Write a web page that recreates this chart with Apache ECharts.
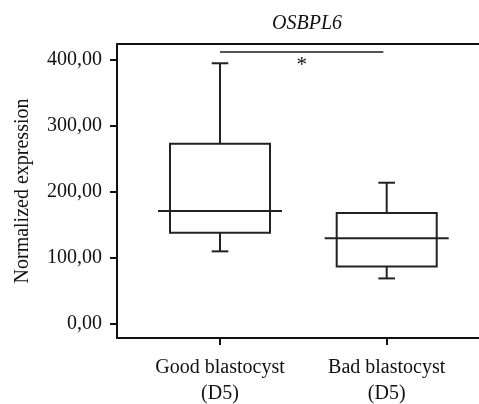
<!DOCTYPE html>
<html>
<head>
<meta charset="utf-8">
<script src="https://cdn.jsdelivr.net/npm/echarts@6/dist/echarts.min.js"></script>
<style>
  html, body { margin: 0; padding: 0; background: #fff; }
  #chart { width: 479px; height: 404px; }
</style>
</head>
<body>
<div id="chart"></div>
<script>
// data
const categories = ['Good blastocyst\n(D5)', 'Bad blastocyst\n(D5)'];
const lowerWhisker = [109, 68];
const q1 = [137, 86];
const median = [170, 129];
const q3 = [272, 167];
const upperWhisker = [394, 213];
const yTicks = [0, 100, 200, 300, 400];
const sigLevel = 411;
const sigMark = '*';

const font = "'Liberation Serif', 'DejaVu Serif', serif";

let boxData = categories.map((c, i) => [i + 1, lowerWhisker[i], q1[i], median[i], q3[i], upperWhisker[i]]);

let myChart = echarts.init(document.getElementById('chart'));
myChart.setOption({
    animation: false,
    title: {
        text: 'OSBPL6',
        left: 302,
        top: 9,
        textAlign: 'center',
        textStyle: { fontFamily: font, fontStyle: 'italic', fontWeight: 'normal', fontSize: 20, color: '#111' }
    },
    grid: { left: 117, right: 0, top: 44, bottom: 66, outerBoundsMode: 'none' },
    xAxis: [
        {
            type: 'value',
            min: 0.3821,
            max: 2.5537,
            splitLine: { show: false },
            axisLine: { show: true, onZero: false, lineStyle: { color: '#111', width: 2 } },
            axisTick: { show: true, customValues: [1, 2], length: 7, lineStyle: { color: '#111', width: 2 } },
            axisLabel: {
                customValues: [1, 2],
                formatter: v => categories[Math.round(v) - 1] || '',
                fontFamily: font, fontSize: 20, color: '#111', lineHeight: 26, margin: 17
            }
        },
        {
            type: 'value',
            position: 'top',
            min: 0.3821,
            max: 2.5537,
            splitLine: { show: false },
            axisLine: { show: true, onZero: false, lineStyle: { color: '#111', width: 2 } },
            axisTick: { show: false },
            axisLabel: { show: false }
        }
    ],
    yAxis: {
        type: 'value',
        min: -22.3,
        max: 423.2,
        name: 'Normalized expression',
        nameLocation: 'middle',
        nameGap: 84,
        nameTextStyle: { fontFamily: font, fontSize: 20, color: '#111' },
        splitLine: { show: false },
        axisLine: { show: true, onZero: false, lineStyle: { color: '#111', width: 2 } },
        axisTick: { show: true, customValues: yTicks, length: 7, lineStyle: { color: '#111', width: 2 } },
        axisLabel: {
            customValues: yTicks,
            formatter: v => v.toFixed(2).replace('.', ','),
            fontFamily: font, fontSize: 20, color: '#111', margin: 15
        }
    },
    series: [
        {
            type: 'custom',
            xAxisIndex: 0,
            data: boxData,
            renderItem: function (params, api) {
                let x = api.value(0);
                let lo = api.coord([x, api.value(1)]);
                let b1 = api.coord([x, api.value(2)]);
                let md = api.coord([x, api.value(3)]);
                let b3 = api.coord([x, api.value(4)]);
                let hi = api.coord([x, api.value(5)]);
                let unit = api.size([1, 0])[0];
                let boxW = unit * 0.6;
                let medW = unit * 0.744;
                let capW = unit * 0.1;
                let st = { stroke: '#222', lineWidth: 2, fill: null };
                let cx = lo[0];
                return {
                    type: 'group',
                    children: [
                        { type: 'rect', shape: { x: cx - boxW / 2, y: b3[1], width: boxW, height: b1[1] - b3[1] }, style: { stroke: '#222', lineWidth: 2, fill: 'transparent' } },
                        { type: 'line', shape: { x1: cx - medW / 2, y1: md[1], x2: cx + medW / 2, y2: md[1] }, style: st },
                        { type: 'line', shape: { x1: cx, y1: b3[1], x2: cx, y2: hi[1] }, style: st },
                        { type: 'line', shape: { x1: cx - capW / 2, y1: hi[1], x2: cx + capW / 2, y2: hi[1] }, style: st },
                        { type: 'line', shape: { x1: cx, y1: b1[1], x2: cx, y2: lo[1] }, style: st },
                        { type: 'line', shape: { x1: cx - capW / 2, y1: lo[1], x2: cx + capW / 2, y2: lo[1] }, style: st }
                    ]
                };
            }
        },
        {
            type: 'custom',
            xAxisIndex: 0,
            data: [[1, 1.98, sigLevel]],
            renderItem: function (params, api) {
                let a = api.coord([api.value(0), api.value(2)]);
                let b = api.coord([api.value(1), api.value(2)]);
                return {
                    type: 'group',
                    children: [
                        { type: 'line', shape: { x1: a[0], y1: a[1], x2: b[0], y2: b[1] }, style: { stroke: '#555', lineWidth: 2 } },
                        { type: 'text', x: (a[0] + b[0]) / 2, y: a[1] + 3, style: { text: sigMark, fontFamily: font, fontSize: 21, fill: '#111', align: 'center', verticalAlign: 'top' } }
                    ]
                };
            }
        }
    ]
});
window.onresize = function () {
    myChart.resize();
};
</script>
</body>
</html>
